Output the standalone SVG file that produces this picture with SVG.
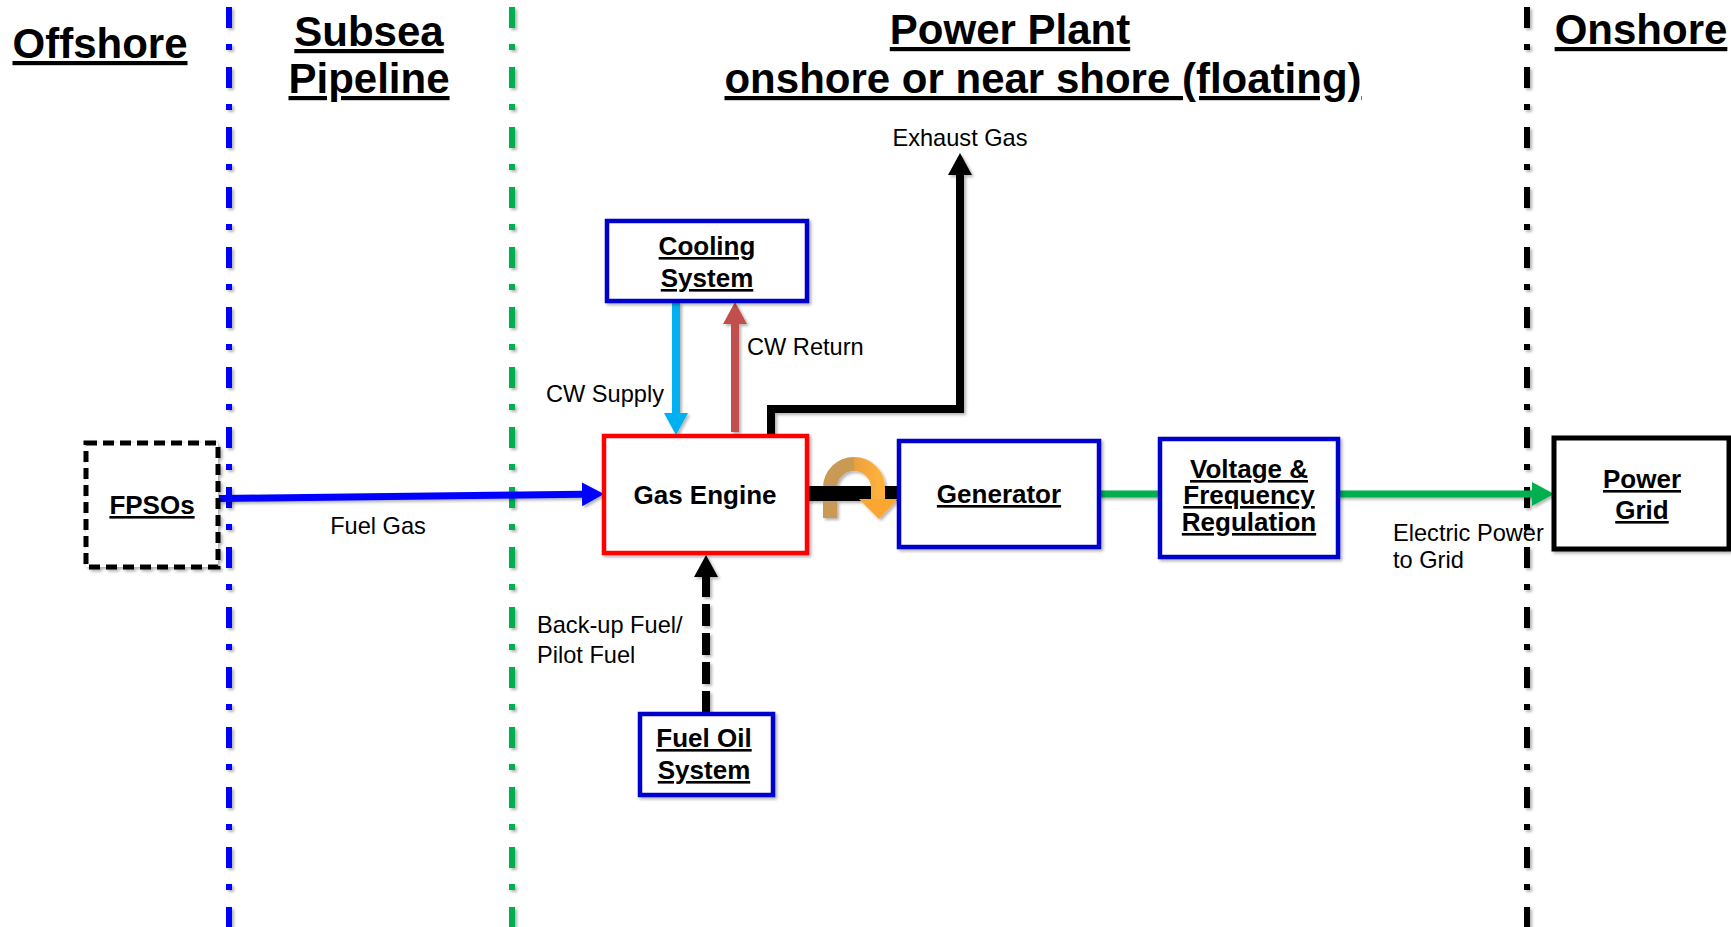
<svg xmlns="http://www.w3.org/2000/svg" width="1731" height="927" viewBox="0 0 1731 927">
<style>
.title{font-family:"Liberation Sans",Arial,sans-serif;font-weight:bold;font-size:42px;text-decoration:underline;fill:#000}
.nb{font-family:"Liberation Sans",Arial,sans-serif;font-weight:bold;font-size:26px;text-decoration:underline;fill:#000;text-anchor:middle}
.lb{font-family:"Liberation Sans",Arial,sans-serif;font-size:23.6px;fill:#000}
.box{fill:#fff;stroke:#0000CC;stroke-width:4.5}
.div{stroke-width:6;stroke-dasharray:21 16 6 17;fill:none}
</style>
<defs>
<filter id="sh" x="-20%" y="-20%" width="140%" height="140%">
<feDropShadow dx="2" dy="2" stdDeviation="1.5" flood-color="#000" flood-opacity="0.3"/>
</filter>
<marker id="aBlue" viewBox="0 0 22 24" refX="1" refY="12" markerWidth="22" markerHeight="24" markerUnits="userSpaceOnUse" orient="auto"><path d="M0,0 L22,12 L0,24 z" fill="#0000FF"/></marker>
<marker id="aCyan" viewBox="0 0 22 24" refX="1" refY="12" markerWidth="22" markerHeight="24" markerUnits="userSpaceOnUse" orient="auto"><path d="M0,0 L22,12 L0,24 z" fill="#00B0F0"/></marker>
<marker id="aRed" viewBox="0 0 22 24" refX="1" refY="12" markerWidth="22" markerHeight="24" markerUnits="userSpaceOnUse" orient="auto"><path d="M0,0 L22,12 L0,24 z" fill="#C0504D"/></marker>
<marker id="aBlack" viewBox="0 0 22 24" refX="1" refY="12" markerWidth="22" markerHeight="24" markerUnits="userSpaceOnUse" orient="auto"><path d="M0,0 L22,12 L0,24 z" fill="#000"/></marker>
<marker id="aGreen" viewBox="0 0 22 24" refX="1" refY="12" markerWidth="22" markerHeight="24" markerUnits="userSpaceOnUse" orient="auto"><path d="M0,0 L22,12 L0,24 z" fill="#00B050"/></marker>
<linearGradient id="og" x1="0" y1="0" x2="1" y2="0">
<stop offset="0" stop-color="#E9A040"/><stop offset="1" stop-color="#FFB03A"/>
</linearGradient>
</defs>
<rect width="1731" height="927" fill="#fff"/>

<g id="dividers" filter="url(#sh)">
<line class="div" x1="229" y1="7" x2="229" y2="927" stroke="#0000FF"/>
<line class="div" x1="512" y1="7" x2="512" y2="927" stroke="#00B050"/>
<line class="div" x1="1527" y1="7" x2="1527" y2="927" stroke="#000"/>
</g>

<g id="titles">
<text class="title" x="100" y="58" text-anchor="middle">Offshore</text>
<text class="title" x="369" y="46" text-anchor="middle">Subsea</text>
<text class="title" x="369" y="93" text-anchor="middle">Pipeline</text>
<text class="title" x="1010" y="44" text-anchor="middle">Power Plant</text>
<text class="title" x="1043" y="93" text-anchor="middle">onshore or near shore (floating)</text>
<text class="title" x="1641" y="44" text-anchor="middle">Onshore</text>
</g>

<g id="connectors">
<g filter="url(#sh)">
<line x1="219" y1="498.5" x2="583" y2="494.3" stroke="#0000FF" stroke-width="7" marker-end="url(#aBlue)"/>
<line x1="676" y1="302" x2="676" y2="414" stroke="#00B0F0" stroke-width="8" marker-end="url(#aCyan)"/>
<line x1="735" y1="432" x2="735" y2="323" stroke="#C0504D" stroke-width="8" marker-end="url(#aRed)"/>
<path d="M771,437 V409 H960 V174" fill="none" stroke="#000" stroke-width="8" marker-end="url(#aBlack)"/>
<line x1="706" y1="713" x2="706" y2="576" stroke="#000" stroke-width="8" stroke-dasharray="22 7" marker-end="url(#aBlack)"/>
<line x1="1099" y1="494" x2="1160" y2="494" stroke="#00B050" stroke-width="7"/>
<line x1="1338" y1="494" x2="1533" y2="494" stroke="#00B050" stroke-width="7" marker-end="url(#aGreen)"/>
</g>
<g id="shaft" filter="url(#sh)">
<path d="M830,518 V488 A24,24 0 0 1 854,464" fill="none" stroke="#C99A55" stroke-width="14"/>
<rect x="807" y="486" width="92" height="15" fill="#000"/>
<path d="M854,464 A24,24 0 0 1 878,488 V500" fill="none" stroke="url(#og)" stroke-width="14"/>
<polygon points="859,499 898,499 879,519" fill="#FBA633"/>
</g>
</g>

<g id="fpso">
<rect x="86" y="443" width="132" height="124" fill="#fff" stroke="#000" stroke-width="5" stroke-dasharray="11 6" filter="url(#sh)"/>
<text class="nb" x="152" y="514">FPSOs</text>
</g>

<g id="gas-engine">
<rect x="604" y="436" width="203" height="117" fill="#fff" stroke="#FF0000" stroke-width="4.5" filter="url(#sh)"/>
<text class="nb" x="705" y="504" style="text-decoration:none">Gas Engine</text>
</g>

<g id="cooling">
<rect class="box" x="607" y="221" width="200" height="80" filter="url(#sh)"/>
<text class="nb" x="707" y="255">Cooling</text>
<text class="nb" x="707" y="287">System</text>
</g>

<g id="fuel-oil">
<rect class="box" x="640" y="714" width="133" height="81" filter="url(#sh)"/>
<text class="nb" x="704" y="747">Fuel Oil</text>
<text class="nb" x="704" y="779">System</text>
</g>

<g id="generator">
<rect class="box" x="899" y="441" width="200" height="106" filter="url(#sh)"/>
<text class="nb" x="999" y="503">Generator</text>
</g>

<g id="vfr">
<rect class="box" x="1160" y="439" width="178" height="118" filter="url(#sh)"/>
<text class="nb" x="1249" y="478">Voltage &amp;</text>
<text class="nb" x="1249" y="504">Frequency</text>
<text class="nb" x="1249" y="531">Regulation</text>
</g>

<g id="power-grid">
<rect x="1554" y="438" width="175" height="111" fill="#fff" stroke="#000" stroke-width="5" filter="url(#sh)"/>
<text class="nb" x="1642" y="488">Power</text>
<text class="nb" x="1642" y="519">Grid</text>
</g>

<g id="labels">
<text class="lb" x="378" y="534" text-anchor="middle">Fuel Gas</text>
<text class="lb" x="960" y="146" text-anchor="middle">Exhaust Gas</text>
<text class="lb" x="664" y="402" text-anchor="end">CW Supply</text>
<text class="lb" x="747" y="355">CW Return</text>
<text class="lb" x="537" y="633">Back-up Fuel/</text>
<text class="lb" x="537" y="663">Pilot Fuel</text>
<text class="lb" x="1393" y="541">Electric Power</text>
<text class="lb" x="1393" y="568">to Grid</text>
</g>
</svg>
